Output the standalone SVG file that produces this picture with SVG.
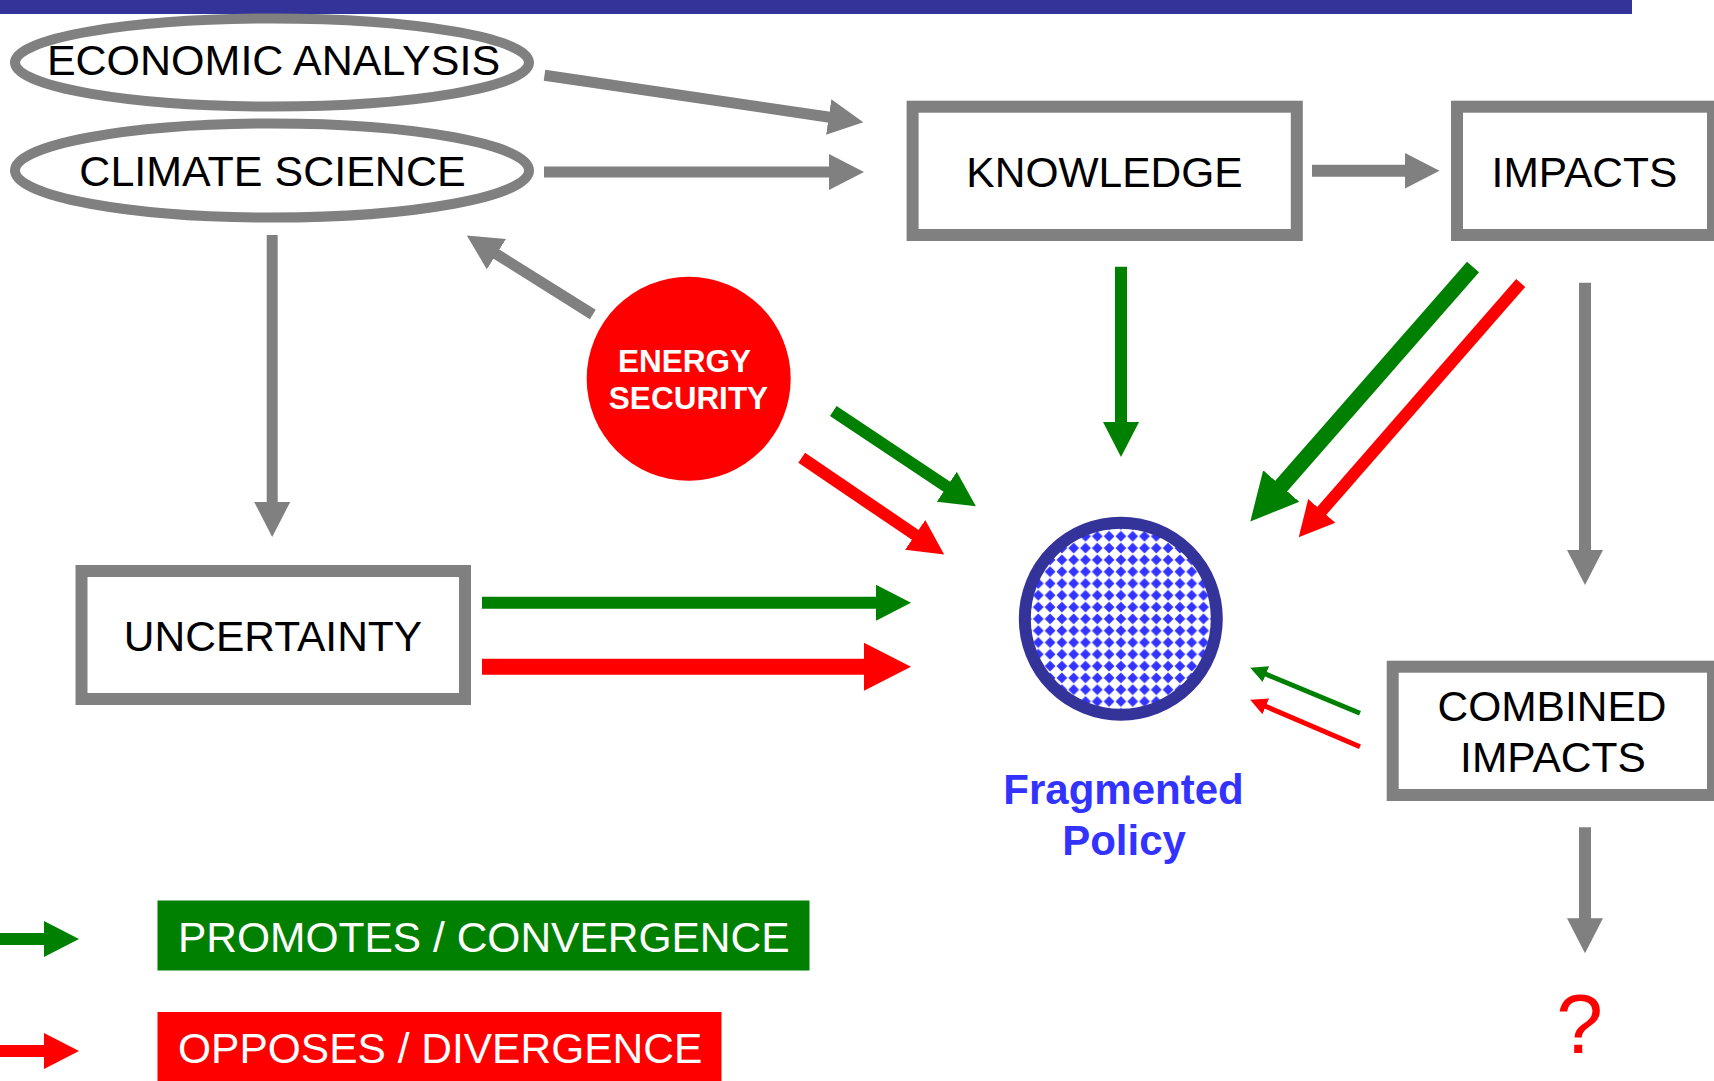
<svg xmlns="http://www.w3.org/2000/svg" width="1714" height="1081" viewBox="0 0 1714 1081">
<style>
text{font-family:"Liberation Sans",Arial,sans-serif;}
.lbl{font-size:42.5px;fill:#000;text-anchor:middle;}
.big{font-size:43px;}
.box{fill:#fff;stroke:#808080;stroke-width:12;}
.ell{fill:#fff;stroke:#808080;stroke-width:10;}
.gr{stroke:#808080;fill:none;}
.gn{stroke:#008000;fill:none;}
.rd{stroke:#FF0000;fill:none;}
.leg{font-size:42.5px;fill:#fff;}
</style>
<defs>
<marker id="mGray" viewBox="0 -20 40 40" markerWidth="40" markerHeight="40" refX="1" refY="0" orient="auto" markerUnits="userSpaceOnUse"><path d="M0,-18 L35,0 L0,18 Z" fill="#808080"/></marker>
<marker id="mGreen" viewBox="0 -20 40 40" markerWidth="40" markerHeight="40" refX="1" refY="0" orient="auto" markerUnits="userSpaceOnUse"><path d="M0,-18 L35,0 L0,18 Z" fill="#008000"/></marker>
<marker id="mRed" viewBox="0 -20 40 40" markerWidth="40" markerHeight="40" refX="1" refY="0" orient="auto" markerUnits="userSpaceOnUse"><path d="M0,-18 L35,0 L0,18 Z" fill="#FF0000"/></marker>
<marker id="mGreenBig" viewBox="0 -25 50 50" markerWidth="50" markerHeight="50" refX="1" refY="0" orient="auto" markerUnits="userSpaceOnUse"><path d="M0,-24 L47,0 L0,24 Z" fill="#008000"/></marker>
<marker id="mRedBig" viewBox="0 -25 50 50" markerWidth="50" markerHeight="50" refX="1" refY="0" orient="auto" markerUnits="userSpaceOnUse"><path d="M0,-24 L47,0 L0,24 Z" fill="#FF0000"/></marker>
<marker id="mGreenSm" viewBox="0 -10 20 20" markerWidth="20" markerHeight="20" refX="1" refY="0" orient="auto" markerUnits="userSpaceOnUse"><path d="M0,-8.5 L17,0 L0,8.5 Z" fill="#008000"/></marker>
<marker id="mRedSm" viewBox="0 -10 20 20" markerWidth="20" markerHeight="20" refX="1" refY="0" orient="auto" markerUnits="userSpaceOnUse"><path d="M0,-8.5 L17,0 L0,8.5 Z" fill="#FF0000"/></marker>
<pattern id="diamonds" patternUnits="userSpaceOnUse" x="1115" y="613" width="11.8" height="11.8">
<rect width="11.8" height="11.8" fill="#fff"/>
<path d="M5.9,0.5 L11.3,5.9 L5.9,11.3 L0.5,5.9 Z" fill="#3333FF"/>
</pattern>
</defs>
<rect x="0" y="0" width="1714" height="1081" fill="#fff"/>
<rect id="topbar" x="0" y="0" width="1632" height="14" fill="#333399"/>

<g id="connectors">
<line class="gr" stroke-width="11" x1="544.5" y1="75.3" x2="829.7" y2="117.2" marker-end="url(#mGray)"/>
<line class="gr" stroke-width="11" x1="544" y1="172" x2="830" y2="172" marker-end="url(#mGray)"/>
<line class="gr" stroke-width="12" x1="1312" y1="170.7" x2="1405.5" y2="170.7" marker-end="url(#mGray)"/>
<line class="gr" stroke-width="11" x1="272.2" y1="235" x2="272.2" y2="503" marker-end="url(#mGray)"/>
<line class="gr" stroke-width="11" x1="592.8" y1="314.5" x2="495.6" y2="253.6" marker-end="url(#mGray)"/>
<line class="gn" stroke-width="12" x1="833.3" y1="411" x2="947.6" y2="487.3" marker-end="url(#mGreen)"/>
<line class="rd" stroke-width="12" x1="801.7" y1="457.8" x2="916" y2="535.4" marker-end="url(#mRed)"/>
<line class="gn" stroke-width="12" x1="482" y1="602.7" x2="877" y2="602.7" marker-end="url(#mGreen)"/>
<line class="rd" stroke-width="16" x1="482" y1="666.7" x2="865" y2="666.7" marker-end="url(#mRedBig)"/>
<line class="gn" stroke-width="12" x1="1121" y1="266.7" x2="1121" y2="423" marker-end="url(#mGreen)"/>
<line class="gn" stroke-width="16" x1="1473" y1="267" x2="1280.6" y2="486.8" marker-end="url(#mGreenBig)"/>
<line class="rd" stroke-width="12" x1="1520.7" y1="283" x2="1321.1" y2="511.6" marker-end="url(#mRed)"/>
<line class="gr" stroke-width="12" x1="1585" y1="282.7" x2="1585" y2="551" marker-end="url(#mGray)"/>
<line class="gr" stroke-width="12" x1="1585" y1="827.3" x2="1585" y2="919.3" marker-end="url(#mGray)"/>
<line class="gn" stroke-width="5" x1="1360" y1="713.3" x2="1265" y2="673.8" marker-end="url(#mGreenSm)"/>
<line class="rd" stroke-width="5" x1="1360" y1="746.7" x2="1264.9" y2="706" marker-end="url(#mRedSm)"/>
<line class="gn" stroke-width="12" x1="0" y1="939" x2="45" y2="939" marker-end="url(#mGreen)"/>
<line class="rd" stroke-width="12" x1="0" y1="1051" x2="45" y2="1051" marker-end="url(#mRed)"/>
</g>

<g id="economic-analysis">
<ellipse class="ell" cx="272" cy="62.5" rx="257" ry="44"/>
<text class="lbl big" x="273.5" y="75">ECONOMIC ANALYSIS</text>
</g>
<g id="climate-science">
<ellipse class="ell" cx="272" cy="170.5" rx="257" ry="47"/>
<text class="lbl big" x="272.5" y="186">CLIMATE SCIENCE</text>
</g>
<g id="knowledge">
<rect class="box" x="912.6" y="106.7" width="384.2" height="128.3"/>
<text class="lbl" x="1104.5" y="186.7">KNOWLEDGE</text>
</g>
<g id="impacts">
<rect class="box" x="1457" y="106.7" width="256" height="128.3"/>
<text class="lbl" x="1584.5" y="186.7">IMPACTS</text>
</g>
<g id="energy-security">
<circle cx="688.7" cy="378.7" r="102" fill="#FF0000"/>
<text x="684.5" y="371.7" font-size="31.5" font-weight="bold" fill="#fff" text-anchor="middle">ENERGY</text>
<text x="688.5" y="409.3" font-size="31.5" font-weight="bold" fill="#fff" text-anchor="middle">SECURITY</text>
</g>
<g id="uncertainty">
<rect class="box" x="81.5" y="571" width="383.5" height="128"/>
<text class="lbl" x="273" y="651">UNCERTAINTY</text>
</g>
<g id="fragmented-policy">
<circle cx="1120.8" cy="618.7" r="96" fill="url(#diamonds)" stroke="#333399" stroke-width="12"/>
<text x="1123.5" y="804" font-size="42" font-weight="bold" fill="#3333FF" text-anchor="middle">Fragmented</text>
<text x="1124" y="855" font-size="42" font-weight="bold" fill="#3333FF" text-anchor="middle">Policy</text>
</g>
<g id="combined-impacts">
<rect class="box" x="1392.7" y="666.7" width="320.3" height="128.3"/>
<text class="lbl" x="1552" y="720.7">COMBINED</text>
<text class="lbl" x="1553" y="772.3">IMPACTS</text>
</g>
<g id="question">
<text x="1579.5" y="1053" font-size="84" fill="#FF0000" text-anchor="middle">?</text>
</g>
<g id="legend-promotes">
<rect x="157.5" y="900.5" width="652" height="70" fill="#008000"/>
<text class="leg" x="178" y="951.7">PROMOTES / CONVERGENCE</text>
</g>
<g id="legend-opposes">
<rect x="157.5" y="1012" width="564" height="69" fill="#FF0000"/>
<text class="leg" x="178" y="1063.3">OPPOSES / DIVERGENCE</text>
</g>
</svg>
